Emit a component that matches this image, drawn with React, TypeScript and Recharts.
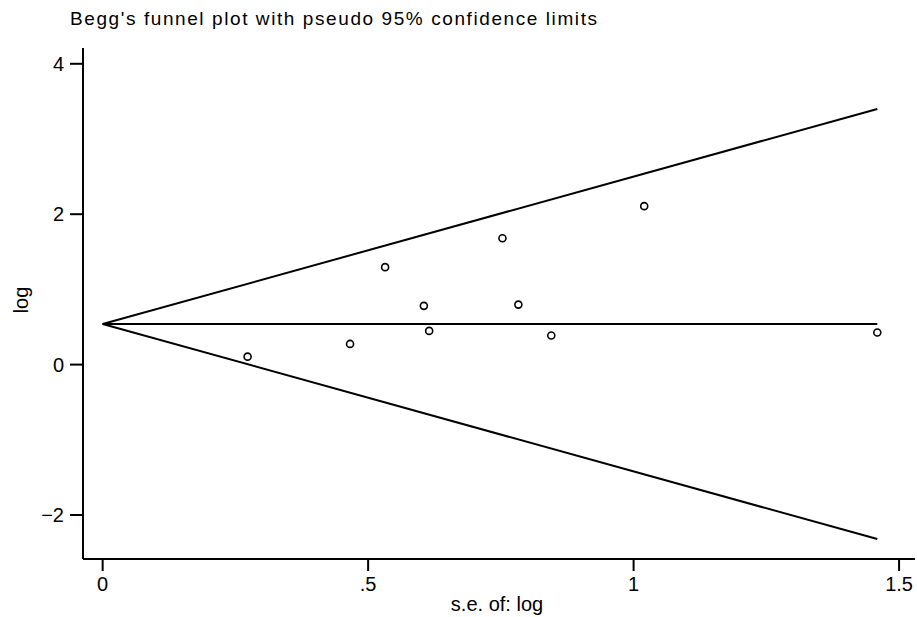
import React from 'react';
import { ComposedChart, Scatter, Line, XAxis, YAxis } from 'recharts';

// Study points: standard error of log (x) vs log effect (y)
const seValues = [0.273, 0.466, 0.532, 0.605, 0.615, 0.753, 0.783, 0.845, 1.020, 1.459];
const logValues = [0.106, 0.275, 1.296, 0.781, 0.448, 1.68, 0.798, 0.386, 2.107, 0.426];

// Funnel lines (pseudo 95% confidence limits)
const funnelSe = [0, 1.459];
const centerValues = [0.54, 0.54];
const upperValues = [0.54, 3.40];
const lowerValues = [0.54, -2.32];

const xTicks = [0, 0.5, 1, 1.5];
const yTicks = [-2, 0, 2, 4];

const points = seValues.map((x, i) => ({ x, y: logValues[i] }));
const centerLine = funnelSe.map((x, i) => ({ x, y: centerValues[i] }));
const upperLine = funnelSe.map((x, i) => ({ x, y: upperValues[i] }));
const lowerLine = funnelSe.map((x, i) => ({ x, y: lowerValues[i] }));

const FONT = '"Liberation Sans", Arial, sans-serif';

const fmtX = (v: number) => (v === 0 ? '0' : String(v).replace(/^0\./, '.'));
const fmtY = (v: number) => (v < 0 ? '\u2212' + String(-v) : String(v));

const HollowDot = (props: any) => {
  const { cx, cy } = props;
  if (cx == null || cy == null) return null;
  return <circle cx={cx} cy={cy} r={3.5} fill="#fff" stroke="#000" strokeWidth={1.6} />;
};

export default function App() {
  return (
    <div style={{ position: 'absolute', left: 0, top: 0, width: 917, height: 617, background: '#fff' }}>
      <ComposedChart
        width={917}
        height={617}
        margin={{ top: 48, right: 2, bottom: 0, left: 0 }}
        style={{ fontFamily: FONT }}
      >
        <XAxis
          type="number"
          dataKey="x"
          domain={[-0.037, 1.53]}
          ticks={xTicks}
          tickFormatter={fmtX}
          allowDataOverflow
          height={58}
          tickSize={12}
          tickMargin={6}
          axisLine={{ stroke: '#000', strokeWidth: 2 }}
          tickLine={{ stroke: '#000', strokeWidth: 2 }}
          tick={{ fill: '#000', fontSize: 20, fontFamily: FONT }}
        />
        <YAxis
          type="number"
          dataKey="y"
          domain={[-2.585, 4.21]}
          ticks={yTicks}
          tickFormatter={fmtY}
          allowDataOverflow
          width={83}
          tickSize={13}
          tickMargin={6}
          axisLine={{ stroke: '#000', strokeWidth: 2 }}
          tickLine={{ stroke: '#000', strokeWidth: 2 }}
          tick={{ fill: '#000', fontSize: 20, fontFamily: FONT }}
        />
        <Line data={upperLine} dataKey="y" stroke="#000" strokeWidth={2} dot={false} isAnimationActive={false} />
        <Line data={centerLine} dataKey="y" stroke="#000" strokeWidth={2} dot={false} isAnimationActive={false} />
        <Line data={lowerLine} dataKey="y" stroke="#000" strokeWidth={2} dot={false} isAnimationActive={false} />
        <Scatter data={points} dataKey="y" shape={<HollowDot />} isAnimationActive={false} />
      </ComposedChart>
      <svg width={917} height={617} style={{ position: 'absolute', left: 0, top: 0, pointerEvents: 'none' }}>
        <text x={70} y={25} fontSize={19} fontFamily={FONT} fill="#000" textLength={527} lengthAdjust="spacing">
          Begg's funnel plot with pseudo 95% confidence limits
        </text>
        <text x={497} y={611} fontSize={20} fontFamily={FONT} fill="#000" textAnchor="middle">
          s.e. of: log
        </text>
        <text x={28} y={300} fontSize={20} fontFamily={FONT} fill="#000" textAnchor="middle" transform="rotate(-90 28 300)">
          log
        </text>
      </svg>
    </div>
  );
}
